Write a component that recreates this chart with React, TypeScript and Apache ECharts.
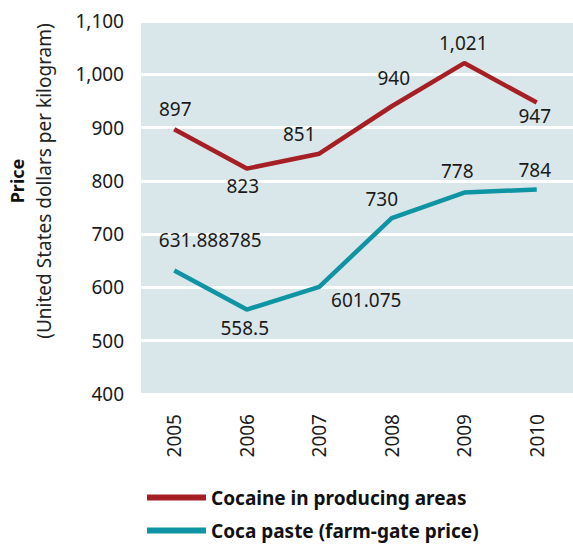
import React, { useEffect, useRef } from "react";
import * as echarts from "echarts";

const years = ["2005", "2006", "2007", "2008", "2009", "2010"];
const cocaine = [897, 823, 851, 940, 1021, 947];
const cocaPaste = [631.888785, 558.5, 601.075, 730, 778, 784];
const cocaineLabelOffsets = [[1, -20], [-4, 17], [-20, -20], [2, -28], [-1, -20], [-2, 13]];
const pasteLabelOffsets = [[36, -30], [-2, 18], [47, 13], [-10, -19], [-7, -22], [-2, -19]];
const seriesNames = ["Cocaine in producing areas", "Coca paste (farm-gate price)"];

const FONT = "Noto Sans";
const RED = "#a51f24";
const TEAL = "#0e94a3";
const BG = "#dae7ea";

function fmt(v: number): string {
  if (v >= 1000) {
    const s = String(v);
    return s.slice(0, s.length - 3) + "," + s.slice(s.length - 3);
  }
  return String(v);
}

function buildData(values: number[], offsets: number[][]) {
  return values.map((v, i) => ({
    value: v,
    label: { offset: offsets[i] },
  }));
}

export default function App() {
  const ref = useRef<HTMLDivElement>(null);
  useEffect(() => {
    if (!ref.current) return;
    const chart = echarts.init(ref.current, null, { renderer: "svg" });
    const labelStyle = {
      show: true,
      position: "inside",
      fontFamily: FONT,
      fontSize: 19,
      color: "#1a1a1a",
      formatter: (p: any) => fmt(p.value),
    };
    chart.setOption({
      animation: false,
      textStyle: { fontFamily: FONT },
      graphic: [
        {
          type: "rect",
          z: -10,
          shape: { x: 141, y: 21, width: 432, height: 373 },
          style: { fill: BG },
          silent: true,
        },
        {
          type: "text",
          x: 17,
          y: 181,
          rotation: Math.PI / 2,
          style: {
            text: "Price",
            fontFamily: FONT,
            fontWeight: "bold",
            fontSize: 18,
            fill: "#111",
            textAlign: "center",
            textVerticalAlign: "middle",
          },
        },
        {
          type: "text",
          x: 44,
          y: 181,
          rotation: Math.PI / 2,
          style: {
            text: "(United States dollars per kilogram)",
            fontFamily: FONT,
            fontSize: 19,
            fill: "#222",
            textAlign: "center",
            textVerticalAlign: "middle",
          },
        },
      ],
      grid: { left: 138, right: -5, top: 21, bottom: 151, containLabel: false },
      legend: {
        orient: "vertical",
        left: 147,
        top: 488,
        padding: 0,
        itemWidth: 59,
        itemHeight: 6,
        itemGap: 14,
        icon: "rect",
        textStyle: { fontFamily: FONT, fontSize: 19, fontWeight: "bold", color: "#111" },
        data: seriesNames,
      },
      xAxis: {
        type: "category",
        data: years,
        boundaryGap: true,
        axisLine: { show: false },
        axisTick: { show: false },
        axisLabel: { rotate: 90, margin: 20, fontFamily: FONT, fontSize: 19, color: "#1a1a1a" },
        splitLine: { show: false },
      },
      yAxis: {
        type: "value",
        min: 400,
        max: 1100,
        interval: 100,
        axisLine: { show: false },
        axisTick: { show: false },
        axisLabel: {
          margin: 14,
          fontFamily: FONT,
          fontSize: 19,
          color: "#1a1a1a",
          formatter: (v: number) => fmt(v),
        },
        splitLine: { show: true, lineStyle: { color: "#ffffff", width: 3 } },
      },
      series: [
        {
          name: seriesNames[0],
          type: "line",
          data: buildData(cocaine, cocaineLabelOffsets),
          symbol: "circle",
          symbolSize: 0.1,
          showSymbol: true,
          lineStyle: { color: RED, width: 4.5 },
          itemStyle: { color: RED },
          label: labelStyle,
        },
        {
          name: seriesNames[1],
          type: "line",
          data: buildData(cocaPaste, pasteLabelOffsets),
          symbol: "circle",
          symbolSize: 0.1,
          showSymbol: true,
          lineStyle: { color: TEAL, width: 4.5 },
          itemStyle: { color: TEAL },
          label: labelStyle,
        },
      ],
    });
    return () => chart.dispose();
  }, []);
  return (
    <div
      ref={ref}
      style={{ position: "fixed", left: 0, top: 0, width: 573, height: 545, background: "#fff" }}
    />
  );
}
